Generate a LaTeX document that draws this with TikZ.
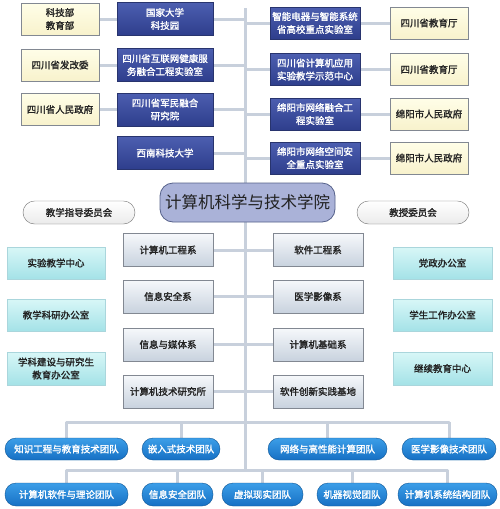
\documentclass[tikz,border=0pt]{standalone}
\usepackage{fontspec}
\setmainfont{Noto Sans CJK SC}[BoldFont={Noto Sans CJK SC},BoldFeatures={FakeBold=1.6}]
\usetikzlibrary{backgrounds}
\definecolor{conn}{RGB}{200,208,220}
\definecolor{navytop}{RGB}{76,94,176}
\definecolor{navybot}{RGB}{46,62,140}
\definecolor{navyline}{RGB}{40,52,110}
\definecolor{yeltop}{RGB}{255,254,232}
\definecolor{yelbot}{RGB}{248,242,204}
\definecolor{graytop}{RGB}{246,248,251}
\definecolor{graybot}{RGB}{200,210,222}
\definecolor{grayline}{RGB}{130,136,146}
\definecolor{cyantop}{RGB}{216,247,247}
\definecolor{cyanbot}{RGB}{164,226,231}
\definecolor{cyanline}{RGB}{170,214,220}
\definecolor{teamtop}{RGB}{60,158,232}
\definecolor{teambot}{RGB}{22,112,196}
\definecolor{teamline}{RGB}{14,86,150}
\definecolor{titlefill}{RGB}{170,178,216}
\definecolor{titleline}{RGB}{85,97,138}
\definecolor{txt}{RGB}{34,34,34}
\tikzset{
  base/.style={draw, align=center, inner sep=1pt, font=\fontsize{9.5}{13}\selectfont\bfseries, text=txt},
  yel/.style={base, top color=yeltop, bottom color=yelbot, draw=grayline, minimum width=78pt, minimum height=32pt},
  navy/.style={base, top color=navytop, bottom color=navybot, draw=navyline, text=white, minimum height=33pt},
  grayb/.style={base, top color=graytop, bottom color=graybot, draw=grayline, minimum width=90pt, minimum height=33pt},
  cyanb/.style={base, top color=cyantop, bottom color=cyanbot, draw=cyanline, minimum height=32pt},
  oval/.style={base, top color=white, bottom color=black!8, draw=black!55, minimum width=112pt, minimum height=23pt, rounded corners=11.5pt},
  team/.style={base, top color=teamtop, bottom color=teambot, draw=teamline, text=white, minimum height=22pt, rounded corners=11pt},
  titleb/.style={draw=titleline, fill=titlefill, text=txt, line width=0.8pt, minimum width=175pt, minimum height=39pt, rounded corners=13pt, font=\fontsize{16.5}{18}\selectfont},
  link/.style={draw=conn, line width=3pt}
}
\begin{document}
\begin{tikzpicture}[x=1pt,y=-1pt]
\useasboundingbox (0,0) rectangle (500,509);
% top left
\node[yel] (y1) at (60,19) {科技部\\教育部};
\node[yel] (y2) at (60,65) {四川省发改委};
\node[yel] (y3) at (60,109.5) {四川省人民政府};
\node[navy, minimum width=96pt] (d1) at (165,19) {国家大学\\科技园};
\node[navy, minimum width=96pt] (d2) at (165,65) {四川省互联网健康服\\务融合工程实验室};
\node[navy, minimum width=96pt] (d3) at (165,109.5) {四川省军民融合\\研究院};
\node[navy, minimum width=96pt] (d4) at (165,153) {西南科技大学};
% top right
\node[navy, minimum width=90pt, minimum height=32pt] (d5) at (315,23) {智能电器与智能系统\\省高校重点实验室};
\node[navy, minimum width=90pt, minimum height=32pt] (d6) at (315,69.5) {四川省计算机应用\\实验教学示范中心};
\node[navy, minimum width=90pt, minimum height=32pt] (d7) at (315,114) {绵阳市网络融合工\\程实验室};
\node[navy, minimum width=90pt, minimum height=32pt] (d8) at (315,158) {绵阳市网络空间安\\全重点实验室};
\node[yel] (y5) at (429,23) {四川省教育厅};
\node[yel] (y6) at (429,69.5) {四川省教育厅};
\node[yel] (y7) at (429,114) {绵阳市人民政府};
\node[yel] (y8) at (429,158) {绵阳市人民政府};
% title
\node[titleb] (title) at (247.5,202.5) {计算机科学与技术学院};
\node[oval] (o1) at (79,212.5) {教学指导委员会};
\node[oval] (o2) at (413,212.5) {教授委员会};
% left cyan
\node[cyanb, minimum width=98pt] (c1) at (56,263) {实验教学中心};
\node[cyanb, minimum width=98pt] (c2) at (56,315) {教学科研办公室};
\node[cyanb, minimum width=98pt, minimum height=33pt] (c3) at (56,368.5) {学科建设与研究生\\教育办公室};
% right cyan
\node[cyanb, minimum width=99pt] (c4) at (442.5,263) {党政办公室};
\node[cyanb, minimum width=99pt] (c5) at (442.5,315) {学生工作办公室};
\node[cyanb, minimum width=99pt, minimum height=33pt] (c6) at (442.5,368.5) {继续教育中心};
% departments
\node[grayb] (g1) at (168,250) {计算机工程系};
\node[grayb] (g2) at (168,296.5) {信息安全系};
\node[grayb] (g3) at (168,344.5) {信息与媒体系};
\node[grayb] (g4) at (168,391.5) {计算机技术研究所};
\node[grayb] (g5) at (318,250) {软件工程系};
\node[grayb] (g6) at (318,296.5) {医学影像系};
\node[grayb] (g7) at (318,344.5) {计算机基础系};
\node[grayb] (g8) at (318,391.5) {软件创新实践基地};
% teams row 1
\node[team, minimum width=123pt] (t1) at (66.5,449) {知识工程与教育技术团队};
\node[team, minimum width=78pt] (t2) at (181,449) {嵌入式技术团队};
\node[team, minimum width=119pt] (t3) at (327.5,449) {网络与高性能计算团队};
\node[team, minimum width=94pt] (t4) at (449,449) {医学影像技术团队};
% teams row 2
\node[team, minimum width=123pt, minimum height=23pt] (s1) at (66.5,494.5) {计算机软件与理论团队};
\node[team, minimum width=71pt, minimum height=23pt] (s2) at (177.5,494.5) {信息安全团队};
\node[team, minimum width=81pt, minimum height=23pt] (s3) at (262.5,494.5) {虚拟现实团队};
\node[team, minimum width=70pt, minimum height=23pt] (s4) at (352,494.5) {机器视觉团队};
\node[team, minimum width=99pt, minimum height=23pt] (s5) at (447.5,494.5) {计算机系统结构团队};
\coordinate (spTop) at (245,8);
\coordinate (spBot) at (245,470);
\coordinate (busA) at (245,422);
\coordinate (busB) at (245,470);
\begin{scope}[on background layer]
\fill[white] (0,0) rectangle (500,509);
\draw[link] (spTop) -- (spBot);
\foreach \n in {1,2,3}{\draw[link] (y\n.east) -- (d\n.west);}
\foreach \n in {5,6,7,8}{\draw[link] (d\n.east) -- (y\n.west);}
\foreach \n in {1,2,3,4}{\draw[link] (d\n.east) -- (d\n.east -| spTop);}
\foreach \n in {5,6,7,8}{\draw[link] (d\n.west) -- (d\n.west -| spTop);}
\foreach \n in {1,2,3,4}{\draw[link] (g\n.east) -- (g\n.east -| spTop);}
\foreach \n in {5,6,7,8}{\draw[link] (g\n.west) -- (g\n.west -| spTop);}
\draw[link, line cap=round] (t1.north |- busA) -- (t4.north |- busA);
\foreach \n in {1,2,3,4}{\draw[link] (t\n.north) -- (t\n.north |- busA);}
\draw[link, line cap=round] (s1.north |- busB) -- (s5.north |- busB);
\foreach \n in {1,2,3,4,5}{\draw[link] (s\n.north) -- (s\n.north |- busB);}
\end{scope}
\end{tikzpicture}
\end{document}
